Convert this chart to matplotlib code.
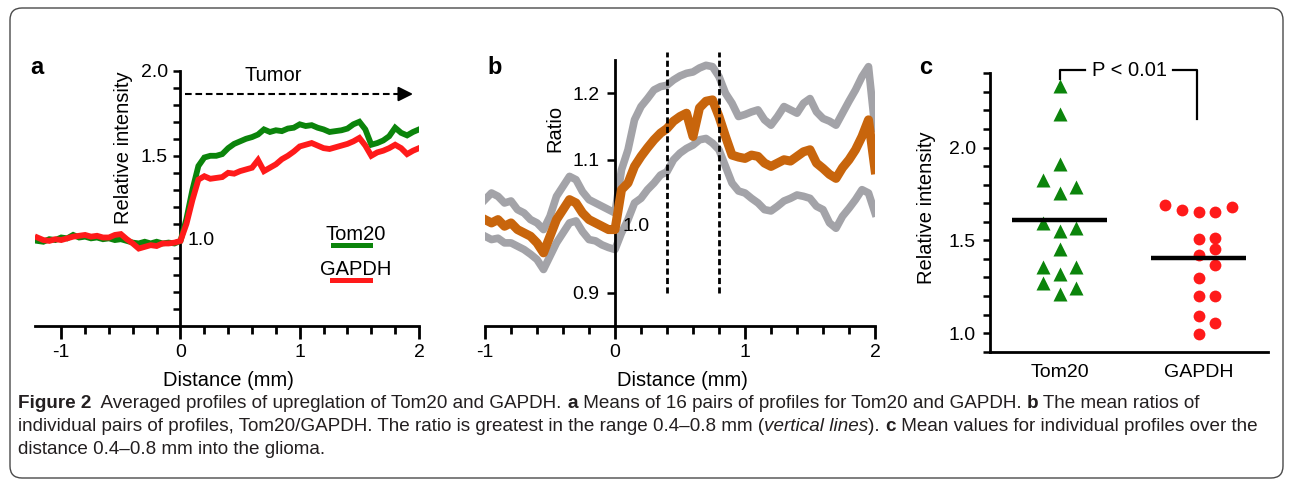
import numpy as np
import matplotlib
matplotlib.use("Agg")
import matplotlib.pyplot as plt
from matplotlib.patches import FancyBboxPatch
from matplotlib.transforms import IdentityTransform, blended_transform_factory

plt.rcParams['font.family'] = ['Liberation Sans', 'DejaVu Sans']

W, H = 1292, 486

# ---------------- data: panel a ----------------
dist_a = [-1.20, -1.15, -1.10, -1.05, -1.00, -0.95, -0.90, -0.85, -0.80, -0.75,
          -0.70, -0.65, -0.60, -0.55, -0.50, -0.45, -0.40, -0.35, -0.30, -0.25,
          -0.20, -0.15, -0.10, -0.05, 0.00, 0.05, 0.10, 0.15, 0.20, 0.25,
          0.30, 0.35, 0.40, 0.45, 0.50, 0.55, 0.60, 0.65, 0.70, 0.75,
          0.80, 0.85, 0.90, 0.95, 1.00, 1.05, 1.10, 1.15, 1.20, 1.25,
          1.30, 1.35, 1.40, 1.45, 1.50, 1.55, 1.60, 1.65, 1.70, 1.75,
          1.80, 1.85, 1.90, 1.95, 2.00]
tom20_profile = [1.000, 0.995, 1.010, 1.005, 1.020, 1.015, 1.035, 1.020, 1.025, 1.015,
                 1.020, 1.010, 1.015, 1.005, 1.010, 1.000, 0.990, 0.985, 0.995, 0.985,
                 0.995, 0.985, 0.990, 0.985, 1.000, 1.130, 1.300, 1.440, 1.490, 1.500,
                 1.500, 1.510, 1.545, 1.570, 1.585, 1.600, 1.610, 1.625, 1.655, 1.640,
                 1.650, 1.645, 1.660, 1.665, 1.685, 1.675, 1.680, 1.665, 1.655, 1.640,
                 1.645, 1.650, 1.660, 1.685, 1.700, 1.655, 1.565, 1.575, 1.590, 1.615,
                 1.665, 1.635, 1.620, 1.640, 1.655]
gapdh_profile = [1.020, 1.005, 1.000, 1.010, 1.005, 1.015, 1.025, 1.030, 1.035, 1.025,
                 1.030, 1.020, 1.020, 1.035, 1.040, 1.010, 0.985, 0.955, 0.965, 0.975,
                 0.970, 0.985, 0.985, 0.990, 1.000, 1.100, 1.240, 1.360, 1.380, 1.365,
                 1.370, 1.375, 1.400, 1.395, 1.410, 1.420, 1.430, 1.475, 1.410, 1.430,
                 1.450, 1.480, 1.500, 1.525, 1.555, 1.565, 1.575, 1.560, 1.545, 1.540,
                 1.550, 1.560, 1.570, 1.585, 1.605, 1.560, 1.500, 1.520, 1.530, 1.545,
                 1.565, 1.545, 1.510, 1.530, 1.545]

# ---------------- data: panel b ----------------
dist_b = [-1.00, -0.95, -0.90, -0.85, -0.80, -0.75, -0.70, -0.65, -0.60, -0.55,
          -0.50, -0.45, -0.40, -0.35, -0.30, -0.25, -0.20, -0.15, -0.10, -0.05,
          0.00, 0.05, 0.10, 0.15, 0.20, 0.25, 0.30, 0.35, 0.40, 0.45,
          0.50, 0.55, 0.60, 0.65, 0.70, 0.75, 0.80, 0.85, 0.90, 0.95,
          1.00, 1.05, 1.10, 1.15, 1.20, 1.25, 1.30, 1.35, 1.40, 1.45,
          1.50, 1.55, 1.60, 1.65, 1.70, 1.75, 1.80, 1.85, 1.90, 1.95, 2.00]
ratio_mean = [1.010, 1.005, 1.010, 1.000, 1.005, 0.995, 0.990, 0.985, 0.975, 0.960,
              0.985, 1.010, 1.025, 1.040, 1.035, 1.020, 1.010, 1.005, 1.000, 0.995,
              0.995, 1.055, 1.065, 1.090, 1.105, 1.118, 1.130, 1.140, 1.147, 1.158,
              1.165, 1.170, 1.135, 1.178, 1.188, 1.190, 1.165, 1.135, 1.107, 1.104,
              1.102, 1.107, 1.105, 1.095, 1.090, 1.095, 1.100, 1.098, 1.105, 1.112,
              1.115, 1.095, 1.087, 1.078, 1.072, 1.088, 1.100, 1.115, 1.135, 1.160, 1.085]
ratio_upper = [1.040, 1.050, 1.045, 1.035, 1.038, 1.025, 1.020, 1.010, 1.005, 0.995,
               1.015, 1.045, 1.060, 1.075, 1.070, 1.052, 1.040, 1.035, 1.030, 1.025,
               1.020, 1.085, 1.115, 1.160, 1.180, 1.192, 1.205, 1.210, 1.212, 1.220,
               1.226, 1.230, 1.232, 1.238, 1.242, 1.240, 1.225, 1.200, 1.185, 1.165,
               1.168, 1.172, 1.175, 1.160, 1.152, 1.165, 1.180, 1.175, 1.170, 1.185,
               1.192, 1.172, 1.162, 1.158, 1.152, 1.170, 1.188, 1.205, 1.225, 1.240, 1.147]
ratio_lower = [0.985, 0.980, 0.982, 0.975, 0.975, 0.970, 0.965, 0.958, 0.950, 0.935,
               0.955, 0.975, 0.990, 1.005, 1.008, 0.992, 0.980, 0.978, 0.972, 0.968,
               0.965, 0.990, 1.010, 1.035, 1.042, 1.055, 1.065, 1.077, 1.082, 1.100,
               1.110, 1.117, 1.122, 1.130, 1.132, 1.125, 1.115, 1.090, 1.065, 1.053,
               1.050, 1.042, 1.035, 1.025, 1.023, 1.030, 1.038, 1.042, 1.047, 1.045,
               1.042, 1.030, 1.025, 1.005, 0.997, 1.015, 1.027, 1.040, 1.055, 1.050, 1.020]
range_lines = [0.4, 0.8]

# ---------------- data: panel c ----------------
categories = ["Tom20", "GAPDH"]
tom20_values = [2.33, 2.18, 1.91, 1.825, 1.79, 1.753, 1.595, 1.568, 1.551, 1.452,
                1.357, 1.357, 1.32, 1.27, 1.243, 1.213]
gapdh_values = [1.681, 1.652, 1.652, 1.663, 1.69, 1.505, 1.512, 1.456, 1.42, 1.366,
                1.299, 1.198, 1.202, 1.09, 1.054, 0.996]
p_text = "P < 0.01"

GREEN = '#0b840b'
RED = '#ff1a1a'
ORANGE = '#c8650c'
GRAY = '#a3a3a8'
FS = 14.5
TFS = 14


def px_axes(l, t, r, b):
    return [l / W, 1 - b / H, (r - l) / W, (b - t) / H]


fig = plt.figure(figsize=(W / 100, H / 100), dpi=100)

# rounded frame
frame = FancyBboxPatch((10, 8), 1273, 470, boxstyle='round,pad=0,rounding_size=12',
                       transform=IdentityTransform(), fill=False, ec='#4a4a4a', lw=1.0)
fig.patches.append(frame)

# ================= panel a =================
axa = fig.add_axes(px_axes(35, 70.7, 419, 326))
axa.plot(dist_a, tom20_profile, color=GREEN, lw=4.2, solid_joinstyle='miter', zorder=3)
axa.plot(dist_a, gapdh_profile, color=RED, lw=4.2, solid_joinstyle='miter', zorder=4)
axa.set_xlim(-1.22, 2.0)
axa.set_ylim(0.5, 2.0)
for s in ['top', 'right']:
    axa.spines[s].set_visible(False)
axa.spines['left'].set_position(('data', 0))
for s in ['left', 'bottom']:
    axa.spines[s].set_linewidth(2)
axa.set_xticks([-1, 0, 1, 2])
axa.set_xticklabels(['-1', '0', '1', '2'], fontsize=TFS)
axa.set_xticks(np.arange(-1.0, 2.01, 0.2), minor=True)
axa.set_yticks([1.0, 1.5, 2.0])
axa.set_yticklabels(['', '1.5', '2.0'], fontsize=TFS)
axa.set_yticks(np.arange(0.6, 2.0, 0.1), minor=True)
axa.tick_params(axis='x', which='major', length=9, width=2, pad=4)
axa.tick_params(axis='x', which='minor', length=5.5, width=2)
axa.tick_params(axis='y', which='both', length=5, width=1.8, pad=4)
axa.text(0.06, 1.0, '1.0', fontsize=TFS, ha='left', va='center', zorder=6)
axa.text(-0.48, 1.55, 'Relative intensity', fontsize=FS, rotation=90, ha='center', va='center')
trA = blended_transform_factory(axa.transData, axa.transAxes)
axa.text(0.4, (326 - 380) / 255.3, 'Distance (mm)', fontsize=FS, ha='center', va='center', transform=trA)
axa.text(0.78, 1.97, 'Tumor', fontsize=FS, ha='center', va='center')
axa.plot([0.04, 1.88], [1.863, 1.863], color='black', lw=1.5, ls=(0, (3.2, 1.8)), clip_on=False)
axa.annotate('', xy=(1.95, 1.863), xytext=(1.86, 1.863),
             arrowprops=dict(arrowstyle='-|>', color='black', lw=1.5, mutation_scale=22,
                             shrinkA=0, shrinkB=0))
# legend
axa.text(1.47, 1.04, 'Tom20', fontsize=FS, ha='center', va='center', zorder=5)
axa.plot([1.28, 1.59], [0.975, 0.975], color=GREEN, lw=3.6)
axa.text(1.47, 0.833, 'GAPDH', fontsize=FS, ha='center', va='center', zorder=5)
axa.plot([1.27, 1.59], [0.773, 0.773], color=RED, lw=3.6)
fig.text(30 / W, 1 - 67 / H, 'a', fontsize=17, fontweight='bold', ha='left', va='center')

# ================= panel b =================
axb = fig.add_axes(px_axes(485, 60, 875, 326))
axb.plot(dist_b, ratio_upper, color=GRAY, lw=5.5, zorder=2)
axb.plot(dist_b, ratio_lower, color=GRAY, lw=5.5, zorder=2)
axb.plot(dist_b, ratio_mean, color=ORANGE, lw=6.5, zorder=3)
for xv in range_lines:
    axb.plot([xv, xv], [0.9, 1.262], color='black', lw=2, ls=(0, (2.2, 1.2)), clip_on=False, zorder=4)
axb.set_xlim(-1.0, 2.0)
axb.set_ylim(0.85, 1.25)
for s in ['top', 'right']:
    axb.spines[s].set_visible(False)
axb.spines['left'].set_position(('data', 0))
for s in ['left', 'bottom']:
    axb.spines[s].set_linewidth(2)
axb.set_xticks([-1, 0, 1, 2])
axb.set_xticklabels(['-1', '0', '1', '2'], fontsize=TFS)
axb.set_xticks(np.arange(-1.0, 2.01, 0.2), minor=True)
axb.set_yticks([0.9, 1.0, 1.1, 1.2])
axb.set_yticklabels(['0.9', '', '1.1', '1.2'], fontsize=TFS)
axb.tick_params(axis='x', which='major', length=9, width=2, pad=4)
axb.tick_params(axis='x', which='minor', length=6, width=2)
axb.tick_params(axis='y', which='both', length=6, width=1.8, pad=5)
axb.text(0.06, 1.0, '1.0', fontsize=TFS, ha='left', va='center', zorder=5)
axb.text(-0.46, 1.147, 'Ratio', fontsize=FS, rotation=90, ha='center', va='center')
trB = blended_transform_factory(axb.transData, axb.transAxes)
axb.text(0.52, (326 - 380) / 266, 'Distance (mm)', fontsize=FS, ha='center', va='center', transform=trB)
fig.text(487 / W, 1 - 67 / H, 'b', fontsize=17, fontweight='bold', ha='left', va='center')

# ================= panel c =================
axc = fig.add_axes(px_axes(990, 73.3, 1268, 351.7))


def swarm_offsets(values, row_height, step):
    vals = np.asarray(values)
    order = np.argsort(vals, kind='stable')
    offs = np.zeros(len(vals))
    slots = [0, 1, -1, 2, -2, 3, -3]
    row_start = None
    k = 0
    for idx in order:
        v = vals[idx]
        if row_start is None or v - row_start >= row_height:
            row_start = v
            k = 0
        offs[idx] = slots[k] * step
        k += 1
    return offs


for i, (vals, mk, col, ms) in enumerate([(tom20_values, '^', GREEN, 10),
                                          (gapdh_values, 'o', RED, 8.5)]):
    offs = swarm_offsets(vals, 0.076, 0.122)
    axc.plot(i + offs, vals, ls='none', marker=mk, color=col, ms=ms, mec='none', zorder=3)
    m = np.mean(vals)
    axc.plot([i - 0.345, i + 0.345], [m, m], color='black', lw=3.2, solid_capstyle='butt', zorder=4)

axc.set_xlim(-0.5, 1.5)
axc.set_ylim(0.9, 2.4)
for s in ['top', 'right']:
    axc.spines[s].set_visible(False)
for s in ['left', 'bottom']:
    axc.spines[s].set_linewidth(2)
axc.set_xticks([0, 1])
axc.set_xticklabels(categories, fontsize=TFS)
axc.tick_params(axis='x', length=0, pad=9)
axc.set_yticks([1.0, 1.5, 2.0])
axc.set_yticklabels(['1.0', '1.5', '2.0'], fontsize=TFS)
axc.set_yticks(np.arange(0.9, 2.41, 0.1), minor=True)
axc.tick_params(axis='y', which='both', length=5, width=1.8, pad=5)
trC = blended_transform_factory(axc.transAxes, axc.transData)
axc.text((927 - 990) / 278.0, 1.675, 'Relative intensity', fontsize=FS, rotation=90,
         ha='center', va='center', transform=trC)
# significance bracket
axc.plot([0.007, 0.007, 0.18], [2.37, 2.416, 2.416], color='black', lw=1.6, clip_on=False)
axc.plot([0.82, 0.99, 0.99], [2.416, 2.416, 2.153], color='black', lw=1.6, clip_on=False)
axc.text(0.5, 2.416, p_text, fontsize=FS, ha='center', va='center', clip_on=False)
fig.text(919 / W, 1 - 68 / H, 'c', fontsize=17, fontweight='bold', ha='left', va='center')

# ================= caption =================
cap_lines = [
    [("Figure 2", 'bold', 'normal'),
     ("  Averaged profiles of upreglation of Tom20 and GAPDH. ", 'normal', 'normal'),
     ("a", 'bold', 'normal'),
     (" Means of 16 pairs of profiles for Tom20 and GAPDH. ", 'normal', 'normal'),
     ("b", 'bold', 'normal'),
     (" The mean ratios of", 'normal', 'normal')],
    [("individual pairs of profiles, Tom20/GAPDH. The ratio is greatest in the range 0.4\u20130.8 mm (", 'normal', 'normal'),
     ("vertical lines", 'normal', 'italic'),
     ("). ", 'normal', 'normal'),
     ("c", 'bold', 'normal'),
     (" Mean values for individual profiles over the", 'normal', 'normal')],
    [("distance 0.4\u20130.8 mm into the glioma.", 'normal', 'normal')],
]
cap_family = ['Liberation Sans', 'DejaVu Sans']
renderer = fig.canvas.get_renderer()


def line_width(segs, size):
    tot = 0
    for txt, wt, st in segs:
        t = fig.text(0, 0, txt, fontsize=size, fontweight=wt, fontstyle=st, family=cap_family)
        tot += t.get_window_extent(renderer).width
        t.remove()
    return tot


base = 12.0
wid = max(line_width(cap_lines[0], base), line_width(cap_lines[1], base))
cap_size = base * (1244.0 / wid)

baselines = [408, 431, 454]
for segs, yb in zip(cap_lines, baselines):
    x = 18.0
    for txt, wt, st in segs:
        t = fig.text(x / W, 1 - yb / H, txt, fontsize=cap_size, fontweight=wt, fontstyle=st,
                     family=cap_family, ha='left', va='baseline', color='#231f20')
        x += t.get_window_extent(renderer).width

fig.savefig('out.png', dpi=100)
